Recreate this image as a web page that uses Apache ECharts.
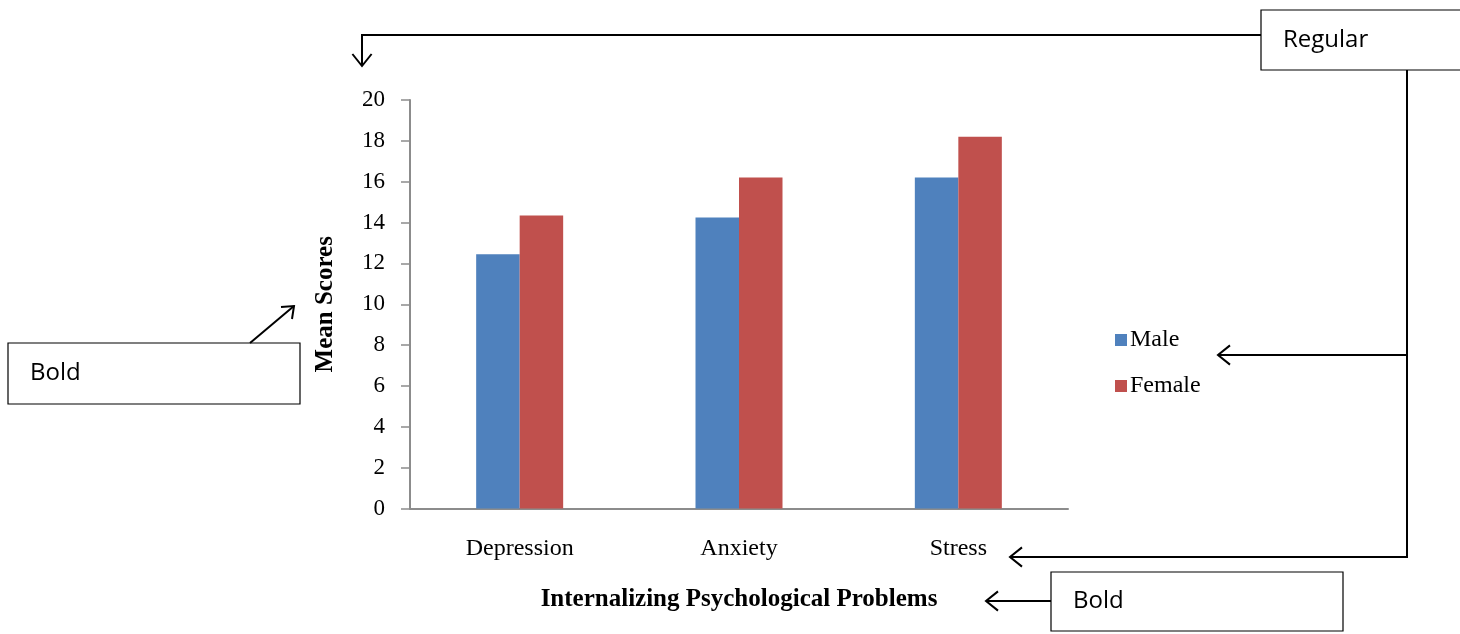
<!DOCTYPE html>
<html><head><meta charset="utf-8">
<script src="https://cdn.jsdelivr.net/npm/echarts@6/dist/echarts.min.js"></script>
<style>html,body{margin:0;padding:0;background:#fff}#c{width:1460px;height:634px}</style>
</head><body><div id="c"></div>
<script>
var categories = ['Depression', 'Anxiety', 'Stress'];
var maleValues = [12.45, 14.25, 16.2];
var femaleValues = [14.35, 16.2, 18.2];
var seriesNames = ['Male', 'Female'];
var yTicks = {min: 0, max: 20, interval: 2};

var chart = echarts.init(document.getElementById('c'), null, {renderer: 'canvas'});
var serif = '"Liberation Serif", "Times New Roman", serif';
var sans = '"Open Sans", "Liberation Sans", sans-serif';
function arrowHead(x, y, dir) {
  var s = 12;
  var pts;
  if (dir === 'left') pts = [[x + s, y - s * 0.8], [x, y], [x + s, y + s * 0.8]];
  else if (dir === 'down') pts = [[x - s * 0.8, y - s], [x, y], [x + s * 0.8, y - s]];
  return {type: 'polyline', shape: {points: pts}, style: {stroke: '#000', lineWidth: 2, fill: null}};
}
function box(x, y, w, h, text) {
  return [
    {type: 'rect', shape: {x: x, y: y, width: w, height: h}, style: {fill: '#fff', stroke: '#000', lineWidth: 1.2}},
    {type: 'text', x: x + 22, y: y + h / 2, style: {text: text, font: '24px ' + sans, fill: '#000', verticalAlign: 'middle'}}
  ];
}
function line(pts) {
  return {type: 'polyline', shape: {points: pts}, style: {stroke: '#000', lineWidth: 2, fill: null}};
}
var graphics = [].concat(
  [line([[1261, 35], [362, 35], [362, 66]]), arrowHead(362, 66, 'down')],
  box(1261, 10, 220, 60, 'Regular'),
  [line([[1407, 70], [1407, 557], [1010, 557]]), arrowHead(1010, 557, 'left')],
  [line([[1407, 355], [1218, 355]]), arrowHead(1218, 355, 'left')],
  box(8, 343, 292, 61, 'Bold'),
  [line([[250, 343], [294, 306]]), {type: 'polyline', shape: {points: [[281, 307], [294, 306], [292, 319]]}, style: {stroke: '#000', lineWidth: 2, fill: null}}],
  box(1051, 572, 292, 59, 'Bold'),
  [line([[1051, 601], [986, 601]]), arrowHead(986, 601, 'left')]
);

chart.setOption({
  animation: false,
  backgroundColor: '#fff',
  grid: {left: 410, right: 392, top: 100, bottom: 125.5},
  legend: {
    orient: 'vertical', left: 1110, top: 323, itemWidth: 12, itemHeight: 12, itemGap: 22,
    icon: 'rect', data: seriesNames,
    textStyle: {fontFamily: serif, fontSize: 24, color: '#000', padding: [0, 0, 0, -2]}
  },
  xAxis: {
    type: 'category', data: categories,
    name: 'Internalizing Psychological Problems', nameLocation: 'middle', nameGap: 79,
    nameTextStyle: {fontFamily: serif, fontSize: 25, fontWeight: 'bold', color: '#000'},
    axisLine: {lineStyle: {color: '#8c8c8c', width: 2}},
    axisTick: {show: false},
    axisLabel: {fontFamily: serif, fontSize: 24, color: '#000', margin: 28}
  },
  yAxis: {
    type: 'value', min: yTicks.min, max: yTicks.max, interval: yTicks.interval,
    name: 'Mean Scores', nameLocation: 'middle', nameGap: 72, nameRotate: 90,
    nameTextStyle: {fontFamily: serif, fontSize: 25, fontWeight: 'bold', color: '#000'},
    axisLine: {show: true, lineStyle: {color: '#8c8c8c', width: 2}},
    axisTick: {show: true, length: 9, lineStyle: {color: '#8c8c8c', width: 1.5}},
    splitLine: {show: false},
    axisLabel: {fontFamily: serif, fontSize: 23, color: '#000', margin: 25}
  },
  series: [
    {name: seriesNames[0], type: 'bar', data: maleValues, barWidth: 43.5, barGap: '0%', itemStyle: {color: '#4F81BD'}},
    {name: seriesNames[1], type: 'bar', data: femaleValues, barWidth: 43.5, barGap: '0%', itemStyle: {color: '#C0504D'}}
  ],
  graphic: graphics
});
</script></body></html>
